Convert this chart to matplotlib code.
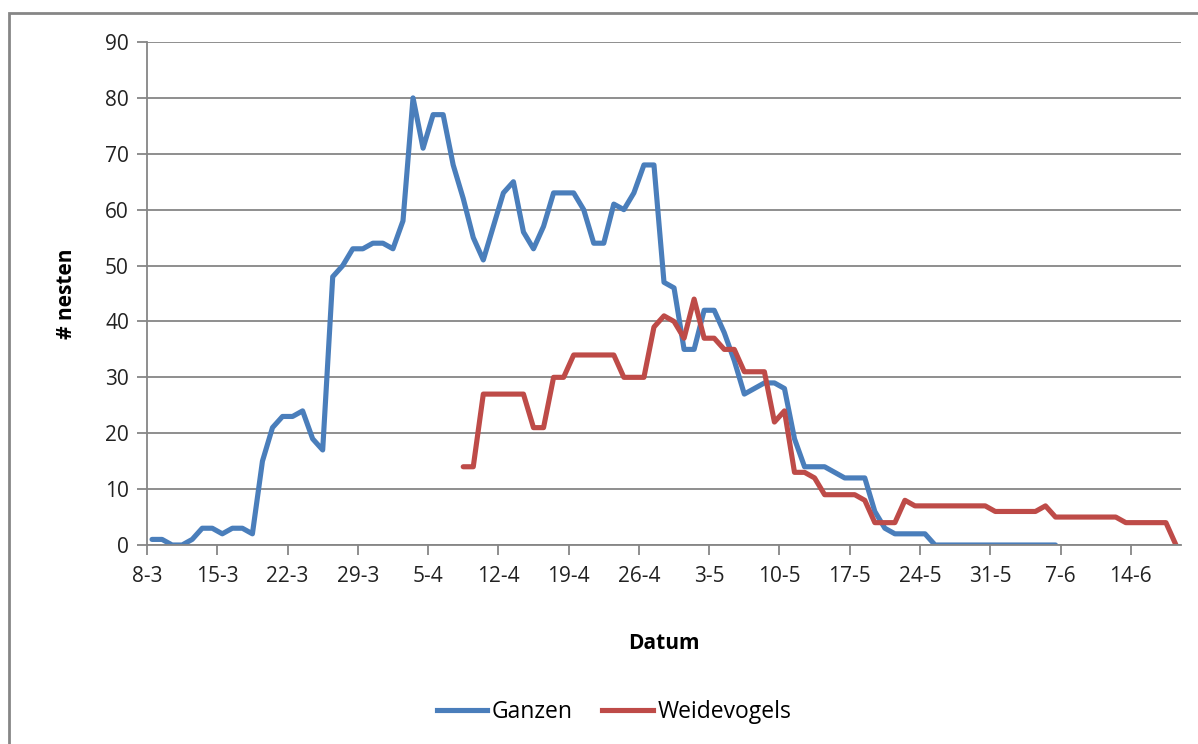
import numpy as np
import matplotlib
matplotlib.use("Agg")
import matplotlib.pyplot as plt
import matplotlib.dates as mdates
from matplotlib.patches import Rectangle
from matplotlib.lines import Line2D

# daily counts, Ganzen from 8-3, Weidevogels from 8-4
ganzen_start = "2010-03-08"
ganzen = [1, 1, 0, 0, 1, 3, 3, 2, 3, 3, 2, 15, 21, 23, 23, 24, 19, 17,
          48, 50, 53, 53, 54, 54, 53, 58, 80, 71, 77, 77, 68, 62, 55, 51,
          57, 63, 65, 56, 53, 57, 63, 63, 63, 60, 54, 54, 61, 60, 63, 68,
          68, 47, 46, 35, 35, 42, 42, 38, 33, 27, 28, 29, 29, 28, 19, 14,
          14, 14, 13, 12, 12, 12, 6, 3, 2, 2, 2, 2,
          0, 0, 0, 0, 0, 0, 0, 0, 0, 0, 0, 0, 0]
weide_start = "2010-04-08"
weidevogels = [14, 14, 27, 27, 27, 27, 27, 21, 21, 30, 30, 34, 34, 34, 34,
               34, 30, 30, 30, 39, 41, 40, 37, 44, 37, 37, 35, 35, 31, 31,
               31, 22, 24, 13, 13, 12, 9, 9, 9, 9, 8, 4, 4, 4, 8,
               7, 7, 7, 7, 7, 7, 7, 7, 6, 6, 6, 6, 6, 7,
               5, 5, 5, 5, 5, 5, 5, 4, 4, 4, 4, 4, 0]
labels = ["Ganzen", "Weidevogels"]
colors = ["#4A7EBB", "#BE4B48"]


def days(start, n):
    # points sit in the middle of each day, like the Excel date axis
    return np.datetime64(start) + np.arange(n).astype("timedelta64[D]") + np.timedelta64(12, "h")


def main():
    plt.rcParams["font.family"] = ["Open Sans", "DejaVu Sans"]
    grey = "#868686"
    fs = 15
    fig = plt.figure(figsize=(11.98, 7.44), dpi=100)
    ax = fig.add_axes([147 / 1198, 1 - 545 / 744, (1181 - 147) / 1198, (545 - 42) / 744])

    ax.plot(days(ganzen_start, len(ganzen)), ganzen, color=colors[0], lw=3.7,
            solid_joinstyle="round", solid_capstyle="round")
    ax.plot(days(weide_start, len(weidevogels)), weidevogels, color=colors[1], lw=3.7,
            solid_joinstyle="round", solid_capstyle="round")

    ax.set_xlim(np.datetime64("2010-03-08"), np.datetime64("2010-06-19"))
    ax.set_ylim(0, 90)
    ax.set_yticks(range(0, 91, 10))
    ax.set_xticks(np.arange(np.datetime64("2010-03-08"), np.datetime64("2010-06-19"),
                            np.timedelta64(7, "D")))
    ax.xaxis.set_major_formatter(mdates.DateFormatter("%-d-%-m"))

    ax.grid(axis="y", color=grey, lw=1.3)
    ax.set_axisbelow(True)
    for s in ["top", "right"]:
        ax.spines[s].set_visible(False)
    for s in ["left", "bottom"]:
        ax.spines[s].set_color(grey)
        ax.spines[s].set_linewidth(1.3)
    ax.tick_params(axis="both", direction="out", length=7, width=1.3, color=grey,
                   labelsize=fs, labelcolor="#222222", pad=6)
    ax.tick_params(axis="x", pad=8)

    ax.set_xlabel("Datum", fontsize=fs, fontweight="bold", labelpad=33)
    ax.set_ylabel("# nesten", fontsize=fs, fontweight="bold", labelpad=20)

    # outer chart border
    fig.patches.append(Rectangle((9 / 1198, -0.1), 1.2, 1 - 13 / 744 + 0.1,
                                 transform=fig.transFigure, fill=False,
                                 edgecolor=grey, lw=2))

    handles = [Line2D([], [], color=c, lw=3.7) for c in colors]
    fig.legend(handles, labels, loc="center", bbox_to_anchor=(614 / 1198, 1 - 712 / 744),
               ncol=2, frameon=False, fontsize=16.5, handlelength=2.2,
               handletextpad=0.2, columnspacing=1.3)

    fig.savefig("out.png", dpi=100)


if __name__ == "__main__":
    main()
